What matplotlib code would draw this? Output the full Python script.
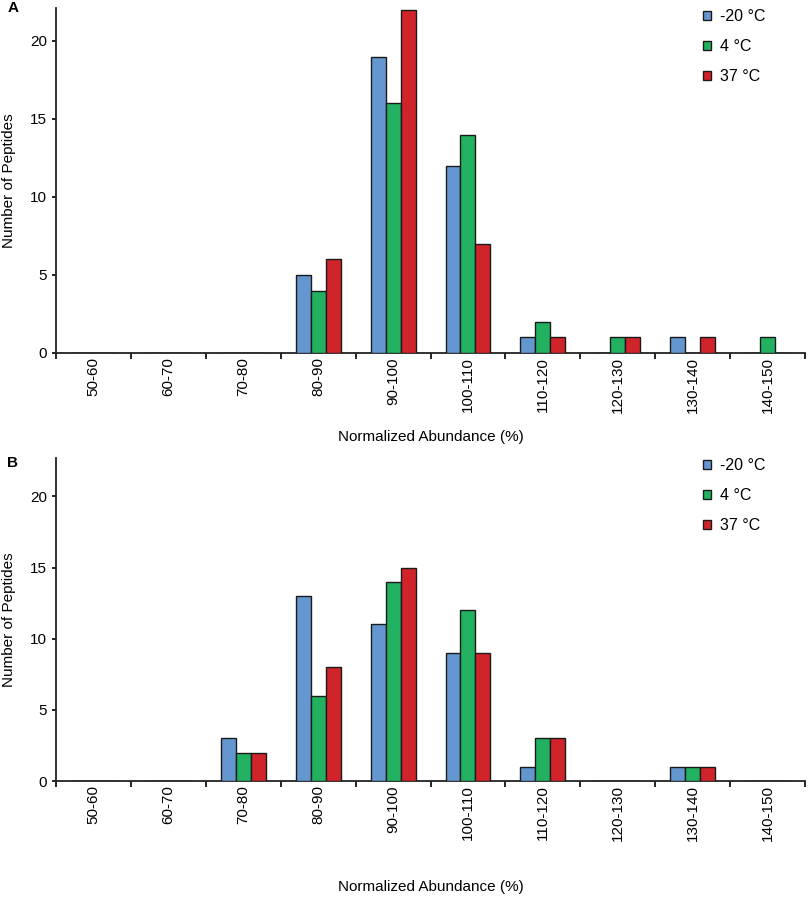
import numpy as np
import matplotlib.pyplot as plt
from matplotlib.patches import Patch

plt.rcParams['font.family'] = ['Liberation Sans', 'DejaVu Sans']

bins = ['50-60', '60-70', '70-80', '80-90', '90-100', '100-110',
        '110-120', '120-130', '130-140', '140-150']
series = ['-20 °C', '4 °C', '37 °C']
colors = ['#6497cf', '#22b161', '#d1242a']

# panel A
a_m20 = [0, 0, 0, 5, 19, 12, 1, 0, 1, 0]
a_4 = [0, 0, 0, 4, 16, 14, 2, 1, 0, 1]
a_37 = [0, 0, 0, 6, 22, 7, 1, 1, 1, 0]
# panel B
b_m20 = [0, 0, 3, 13, 11, 9, 1, 0, 1, 0]
b_4 = [0, 0, 2, 6, 14, 12, 3, 0, 1, 0]
b_37 = [0, 0, 2, 8, 15, 9, 3, 0, 1, 0]

fig = plt.figure(figsize=(8.1, 9.05), dpi=100)
axA = fig.add_axes([0.069, 0.610, 0.925, 0.381])
axB = fig.add_axes([0.069, 0.137, 0.925, 0.357])

x = np.arange(len(bins))
w = 0.2


def draw(ax, data, ytop, letter, leg_y, letter_y):
    for i, (vals, c) in enumerate(zip(data, colors)):
        ax.bar(x + (i - 1) * w, vals, width=w, color=c, edgecolor='#1a1a1a',
               linewidth=1.0, zorder=3)
    ax.set_xlim(-0.5, 9.5)
    ax.set_ylim(0, ytop)
    ax.set_yticks([0, 5, 10, 15, 20])
    ax.set_xticks(x)
    ax.set_xticklabels(bins, rotation=90, fontsize=11)
    ax.set_xticks(np.arange(-0.5, 10, 1), minor=True)
    ax.tick_params(axis='x', which='major', length=0, pad=3)
    ax.tick_params(axis='x', which='minor', length=4, width=1.2, direction='out')
    ax.tick_params(axis='y', length=3, width=1.2, labelsize=11, direction='out')
    for s in ['top', 'right']:
        ax.spines[s].set_visible(False)
    for s in ['left', 'bottom']:
        ax.spines[s].set_linewidth(1.3)
        ax.spines[s].set_color('#222222')
    ax.set_xlabel('Normalized Abundance (%)', fontsize=11, labelpad=12)
    ax.set_ylabel('Number of Peptides', fontsize=11, labelpad=10)
    handles = [Patch(facecolor=c, edgecolor='#1a1a1a', linewidth=1.0) for c in colors]
    ax.legend(handles, series, loc='upper left', bbox_to_anchor=(0.844, leg_y),
              frameon=False, fontsize=11.5, handlelength=0.5, handleheight=0.5,
              labelspacing=0.95, handletextpad=0.6)
    ax.text(-0.065, letter_y, letter, transform=ax.transAxes, fontsize=11,
            fontweight='bold', ha='left', va='center')


draw(axA, [a_m20, a_4, a_37], 22.1, 'A', 1.04, 1.0)
draw(axB, [b_m20, b_4, b_37], 22.7, 'B', 1.045, 0.985)
axB.xaxis.labelpad = 28

fig.savefig('out.png', dpi=100)
